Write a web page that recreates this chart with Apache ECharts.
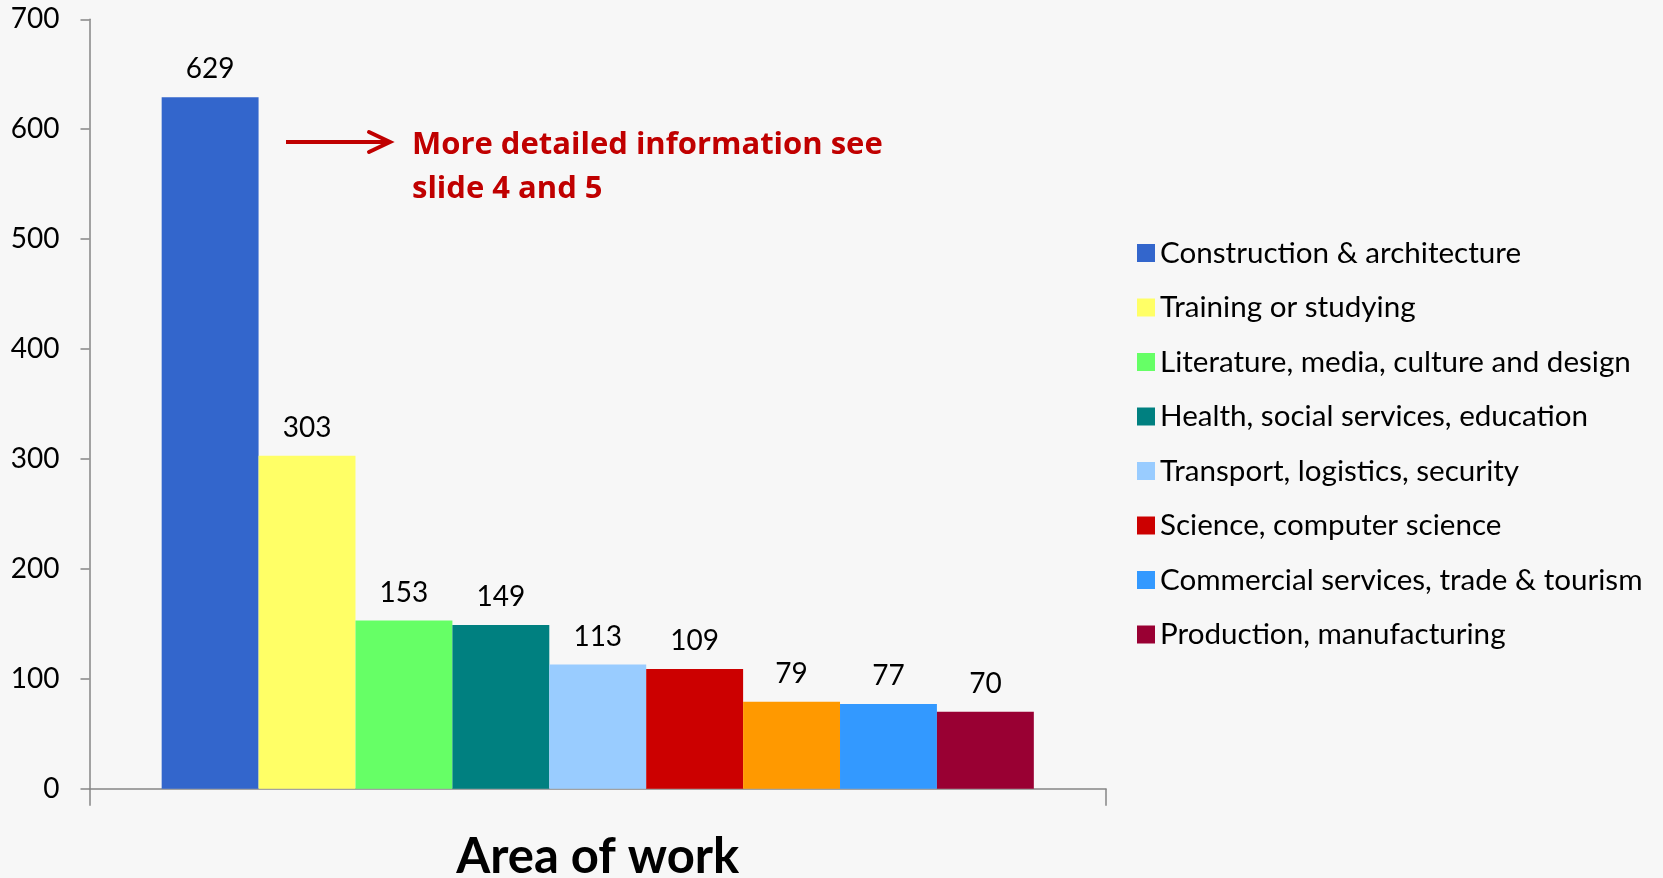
<!DOCTYPE html>
<html>
<head>
<meta charset="utf-8">
<script src="https://cdn.jsdelivr.net/npm/echarts@6/dist/echarts.min.js"></script>
<style>
  html, body { margin: 0; padding: 0; background: #f7f7f7; }
  #chart { width: 1663px; height: 878px; }
</style>
</head>
<body>
<div id="chart"></div>
<script>
// data
const categories = ['Area of work']
const seriesNames = [
  'Construction & architecture',
  'Training or studying',
  'Literature, media, culture and design',
  'Health, social services, education',
  'Transport, logistics, security',
  'Science, computer science',
  'Other',
  'Commercial services, trade & tourism',
  'Production, manufacturing',
]
const seriesValues = [629, 303, 153, 149, 113, 109, 79, 77, 70]
const legendNames = seriesNames.filter(n => n !== 'Other')
const yTicks = [0, 100, 200, 300, 400, 500, 600, 700]

const colors = ['#3366cc', '#ffff66', '#66ff66', '#008080', '#99ccff', '#cc0000', '#ff9900', '#3399ff', '#990033']
const FONT = 'Lato, "Noto Sans", sans-serif'

const chart = echarts.init(document.getElementById('chart'))

chart.setOption({
  backgroundColor: '#f7f7f7',
  animation: false,
  textStyle: { fontFamily: FONT },
  // the axis name runs off the bottom edge in the original, so don't squeeze the grid
  grid: { left: 89.5, right: 557, top: 19.3, bottom: 89.3, outerBoundsMode: 'none', containLabel: false },
  legend: {
    orient: 'vertical',
    left: 1132,
    top: 233,
    data: legendNames,
    icon: 'rect',
    itemWidth: 18,
    itemHeight: 18,
    itemGap: 24.5,
    textStyle: { fontFamily: FONT, fontSize: 29.6, color: '#000', lineHeight: 30, padding: [0, 0, 0, 0] },
  },
  xAxis: {
    type: 'category',
    data: categories,
    name: 'Area of work',
    nameLocation: 'middle',
    nameGap: 44,
    nameTextStyle: { fontFamily: FONT, fontSize: 49, fontWeight: 'bold', color: '#000' },
    axisLine: { lineStyle: { color: '#868686', width: 1.5 } },
    axisTick: { show: true, length: 17, lineStyle: { color: '#868686', width: 1.5 } },
    axisLabel: { show: false },
  },
  yAxis: {
    type: 'value',
    min: yTicks[0],
    max: yTicks[yTicks.length - 1],
    interval: 100,
    axisLine: { show: true, lineStyle: { color: '#868686', width: 1.5 } },
    axisTick: { show: true, length: 9, lineStyle: { color: '#868686', width: 1.5 } },
    axisLabel: { fontFamily: FONT, fontSize: 28, color: '#000', margin: 30 },
    splitLine: { show: false },
  },
  series: seriesNames.map((name, i) => ({
    name,
    type: 'bar',
    data: [seriesValues[i]],
    barGap: 0,
    barCategoryGap: '14.2%',
    itemStyle: { color: colors[i] },
    label: { show: true, position: 'top', distance: 14, fontFamily: FONT, fontSize: 28, color: '#000' },
  })),
  graphic: [
    {
      type: 'line',
      shape: { x1: 286, y1: 142, x2: 388, y2: 142 },
      style: { stroke: '#c00000', lineWidth: 4 },
    },
    {
      type: 'polyline',
      shape: { points: [[369, 132], [390, 142], [369, 152]] },
      style: { stroke: '#c00000', lineWidth: 4, fill: null, lineCap: 'round', lineJoin: 'miter' },
    },
    {
      type: 'text',
      left: 412,
      top: 123,
      style: {
        text: 'More detailed information see\nslide 4 and 5',
        font: 'bold 31px "Open Sans", ' + FONT,
        fill: '#c00000',
        lineHeight: 44,
      },
    },
  ],
})
</script>
</body>
</html>
